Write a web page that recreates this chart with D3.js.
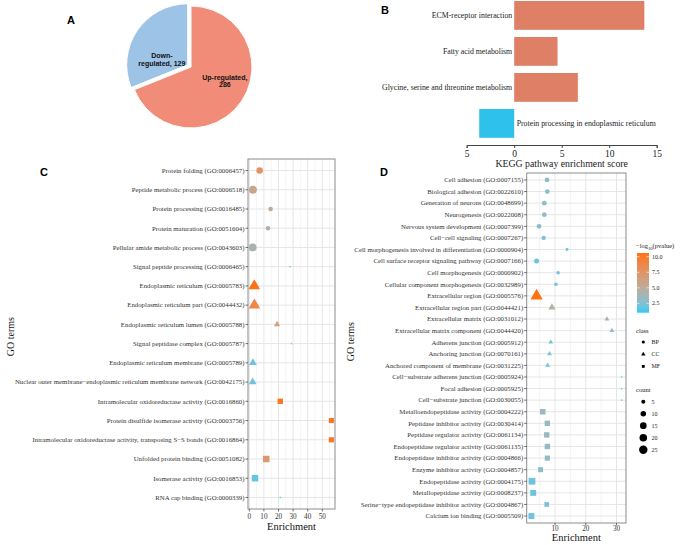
<!DOCTYPE html>
<html lang="en">
<head>
<meta charset="UTF-8">
<title>DEG enrichment overview</title>
<script src="https://d3js.org/d3.v7.min.js"></script>
<style>
  body { margin: 0; background: #fff; }
  svg { display: block; }
  text { font-family: 'Liberation Serif', 'Times New Roman', serif; fill: #222; }
  .tag { font-family: 'Liberation Sans', Arial, sans-serif; font-weight: bold; font-size: 11px; fill: #000; }
</style>
</head>
<body>
<svg width="685" height="545"></svg>
<script>
// ---- data ----
const pieLabels = ["Up-regulated", "Down-regulated"];
const pieValues = [286, 129];

const keggTerms = ["ECM-receptor interaction", "Fatty acid metabolism",
  "Glycine, serine and threonine metabolism", "Protein processing in endoplasmic reticulum"];
const keggScores = [13.7, 4.56, 6.7, -3.68];
const keggTicks = [-5, 0, 5, 10, 15];

const cTerms = [
  "Protein folding (GO:0006457)", "Peptide metabolic process (GO:0006518)",
  "Protein processing (GO:0016485)", "Protein maturation (GO:0051604)",
  "Pellular amide metabolic process (GO:0043603)", "Signal peptide processing (GO:0006465)",
  "Endoplasmic reticulum (GO:0005783)", "Endoplasmic reticulum part (GO:0044432)",
  "Endoplasmic reticulum lumen (GO:0005788)", "Signal peptidase complex (GO:0005787)",
  "Endoplasmic reticulum membrane (GO:0005789)",
  "Nuclear outer membrane−endoplasmic reticulum membrane network (GO:0042175)",
  "Intramolecular oxidoreductase activity (GO:0016860)",
  "Protein disulfide isomerase activity (GO:0003756)",
  "Intramolecular oxidoreductase activity, transposing S−S bonds (GO:0016864)",
  "Unfolded protein binding (GO:0051082)", "Isomerase activity (GO:0016853)",
  "RNA cap binding (GO:0000339)"];
const cEnrich = [7.1, 2.5, 14.6, 12.8, 2.3, 27.9, 3.4, 3.5, 19.0, 29.0, 2.5, 2.3, 21.2, 56.2, 56.2, 11.6, 3.9, 21.2];
const cLogP   = [7.6, 5.6, 5.0, 4.2, 4.1, 1.5, 10.6, 8.8, 6.3, 1.8, 2.0, 2.0, 10.2, 10.2, 10.2, 7.0, 1.8, 1.5];
const cCount  = [9, 14, 4, 4, 14, 1, 18, 18, 4, 1, 7, 7, 8, 7, 7, 12, 12, 1];
const cClass  = ["BP","BP","BP","BP","BP","BP","CC","CC","CC","CC","CC","CC","MF","MF","MF","MF","MF","MF"];
const cTicks  = [0, 10, 20, 30, 40, 50];

const dTerms = [
  "Cell adhesion (GO:0007155)", "Biological adhesion (GO:0022610)",
  "Generation of neurons (GO:0048699)", "Neurogenesis (GO:0022008)",
  "Nervous system development (GO:0007399)", "Cell−cell signaling (GO:0007267)",
  "Cell morphogenesis involved in differentiation (GO:0000904)",
  "Cell surface receptor signaling pathway (GO:0007166)",
  "Cell morphogenesis (GO:0000902)", "Cellular component morphogenesis (GO:0032989)",
  "Extracellular region (GO:0005576)", "Extracellular region part (GO:0044421)",
  "Extracellular matrix (GO:0031012)", "Extracellular matrix component (GO:0044420)",
  "Adherens junction (GO:0005912)", "Anchoring junction (GO:0070161)",
  "Anchored component of membrane (GO:0031225)", "Cell−substrate adherens junction (GO:0005924)",
  "Focal adhesion (GO:0005925)", "Cell−substrate junction (GO:0030055)",
  "Metalloendopeptidase activity (GO:0004222)", "Peptidase inhibitor activity (GO:0030414)",
  "Peptidase regulator activity (GO:0061134)", "Endopeptidase regulator activity (GO:0061135)",
  "Endopeptidase inhibitor activity (GO:0004866)", "Enzyme inhibitor activity (GO:0004857)",
  "Endopeptidase activity (GO:0004175)", "Metallopeptidase activity (GO:0008237)",
  "Serine−type endopeptidase inhibitor activity (GO:0004867)", "Calcium ion binding (GO:0005509)"];
const dEnrich = [7.4, 7.5, 6.5, 6.5, 4.8, 6.3, 13.9, 4.0, 11.0, 10.3, 4.0, 9.0, 26.9, 28.5, 8.6, 8.2, 7.6, 31.7, 31.7, 31.7,
                 6.0, 7.5, 7.3, 7.5, 7.5, 5.3, 2.5, 2.9, 7.3, 2.3];
const dLogP   = [3.1, 3.1, 3.0, 3.0, 2.8, 2.6, 1.8, 2.0, 2.0, 2.0, 10.6, 4.6, 3.8, 3.0, 2.0, 2.0, 2.0, 1.5, 1.5, 1.5,
                 3.5, 3.3, 3.3, 3.2, 3.2, 2.9, 2.0, 2.0, 2.4, 2.0];
const dCount  = [7, 7, 7, 7, 7, 6, 3, 8, 4, 4, 30, 9, 4, 4, 4, 4, 4, 2, 2, 2,
                 13, 12, 12, 12, 11, 10, 20, 15, 9, 15];
const dClass  = d3.range(30).map(i => i < 10 ? "BP" : i < 20 ? "CC" : "MF");
const dTicks  = [10, 20, 30];

const legendLogP = [10.0, 7.5, 5.0, 2.5];
const legendClasses = ["BP", "CC", "MF"];
const legendCounts = [5, 10, 15, 20, 25];

// ---- shared ----
const svg = d3.select("svg");
const color = d3.scaleLinear().domain([1.0, 10.6]).range(["#2ECBF6", "#FF7214"]).interpolate(d3.interpolateLab);
const shapes = {BP: d3.symbolCircle, CC: d3.symbolTriangle, MF: d3.symbolSquare};
// ggplot-ish area size scale
const radiusFn = domain => {
  const t = d3.scaleLinear().domain(domain).clamp(true);
  return c => 0.76 * (1 + 5 * Math.sqrt(t(c)));
};
const symbolPath = (cls, r) => d3.symbol().type(shapes[cls]).size(Math.PI * r * r)();

const tag = (label, x, y) => svg.append("text").attr("class", "tag").attr("x", x).attr("y", y).text(label);

// ---- A: pie ----
tag("A", 67, 24);
const pieG = svg.append("g").attr("transform", "translate(191,67)");
const arcs = d3.pie().sort(null)(pieValues);
const arc = d3.arc().innerRadius(0).outerRadius(61);
const pieColors = ["#F18C79", "#9DC3E6"];
const explode = [0, 4];
arcs.forEach((a, i) => {
  const mid = (a.startAngle + a.endAngle) / 2;
  const dx = Math.sin(mid) * explode[i], dy = -Math.cos(mid) * explode[i];
  const g = pieG.append("g").attr("transform", `translate(${dx},${dy})`);
  g.append("path").attr("d", arc(a)).attr("fill", pieColors[i]).attr("stroke", "#fff").attr("stroke-width", 1);
  const lblArc = d3.arc().innerRadius(36).outerRadius(36);
  let [lx, ly] = lblArc.centroid(a);
  // nudge labels like Excel's best fit
  if (i === 0) { lx += 4; ly -= 6; } else { lx += 4; ly += 15; }
  const lines = i === 0 ? [pieLabels[0] + ",", String(pieValues[0])]
                        : ["Down-", "regulated, " + pieValues[1]];
  lines.forEach((t, k) => {
    g.append("text").attr("x", lx).attr("y", ly + (k - 0.5) * 7.5 + 2.5)
      .attr("text-anchor", "middle")
      .style("font-family", "'Liberation Sans', Arial, sans-serif")
      .style("font-weight", "bold").style("font-size", "7px").style("fill", "#111")
      .text(t);
  });
});

// ---- B: KEGG bars ----
tag("B", 381, 14);
const bx = d3.scaleLinear().domain([-5, 15]).range([466.7, 656.7]);
const by = d3.scaleBand().domain(keggTerms).range([-2.6, 141.4]).paddingInner(0.2).paddingOuter(0.1);
keggTerms.forEach((t, i) => {
  const v = keggScores[i];
  svg.append("rect")
    .attr("x", bx(Math.min(0, v))).attr("width", Math.abs(bx(v) - bx(0)))
    .attr("y", by(t)).attr("height", by.bandwidth())
    .attr("fill", v >= 0 ? "#DE7F66" : "#2EC1E9");
  svg.append("text")
    .attr("x", v >= 0 ? bx(0) - 2 : bx(0) + 2.5)
    .attr("y", by(t) + by.bandwidth() / 2 + 2.6)
    .attr("text-anchor", v >= 0 ? "end" : "start")
    .style("font-size", "7.8px").text(t);
});
const bAxis = svg.append("g").attr("transform", "translate(0,145)")
  .call(d3.axisBottom(bx).tickValues(keggTicks).tickSize(3).tickPadding(2).tickFormat(d => Math.abs(d)));
bAxis.select(".domain").attr("stroke", "#444");
bAxis.selectAll(".tick line").attr("stroke", "#444");
bAxis.selectAll("text").style("font-family", "'Liberation Serif', serif").style("font-size", "9.5px").attr("fill", "#222");
svg.append("text").attr("x", 561.7).attr("y", 167).attr("text-anchor", "middle")
  .style("font-size", "9.8px").text("KEGG pathway enrichment score");

// ---- C / D: dot plots ----
function dotPanel(o) {
  const x = d3.scaleLinear().domain(o.xDomain).range([o.left, o.right]);
  const y = d3.scalePoint().domain(o.terms).range([o.top, o.bottom]).padding(0.6);
  const r = radiusFn(o.countDomain);
  const g = svg.append("g");
  // grid
  const minor = d3.range(o.minorStart, o.xDomain[1], o.minorStep);
  g.selectAll(null).data(minor).join("line")
    .attr("x1", d => x(d)).attr("x2", d => x(d)).attr("y1", o.top).attr("y2", o.bottom)
    .attr("stroke", "#ececec").attr("stroke-width", 0.6);
  g.selectAll(null).data(o.ticks).join("line")
    .attr("x1", d => x(d)).attr("x2", d => x(d)).attr("y1", o.top).attr("y2", o.bottom)
    .attr("stroke", "#e6e6e6").attr("stroke-width", 1);
  g.selectAll(null).data(o.terms).join("line")
    .attr("x1", o.left).attr("x2", o.right).attr("y1", d => y(d)).attr("y2", d => y(d))
    .attr("stroke", "#e6e6e6").attr("stroke-width", 1);
  // points
  o.terms.forEach((t, i) => {
    g.append("path")
      .attr("transform", `translate(${x(o.enrich[i])},${y(t)})`)
      .attr("d", symbolPath(o.classes[i], r(o.counts[i])))
      .attr("fill", color(o.logp[i]));
  });
  // border
  g.append("rect").attr("x", o.left).attr("y", o.top)
    .attr("width", o.right - o.left).attr("height", o.bottom - o.top)
    .attr("fill", "none").attr("stroke", "#8c8c8c").attr("stroke-width", 1);
  // y axis
  o.terms.forEach(t => {
    g.append("line").attr("x1", o.left - 2.5).attr("x2", o.left).attr("y1", y(t)).attr("y2", y(t))
      .attr("stroke", "#333").attr("stroke-width", 0.7);
    g.append("text").attr("x", o.left - 3.5).attr("y", y(t) + 2.3)
      .attr("text-anchor", "end").style("font-size", "6.8px").style("fill", "#333").text(t);
  });
  // x axis
  o.ticks.forEach(d => {
    g.append("line").attr("x1", x(d)).attr("x2", x(d)).attr("y1", o.bottom).attr("y2", o.bottom + 2.5)
      .attr("stroke", "#333").attr("stroke-width", 0.7);
    g.append("text").attr("x", x(d)).attr("y", o.tickY)
      .attr("text-anchor", "middle").style("font-size", "7.2px").style("fill", "#333").text(d);
  });
  g.append("text").attr("x", (o.left + o.right) / 2).attr("y", o.titleY)
    .attr("text-anchor", "middle").style("font-size", "10.5px").style("fill", "#111").text("Enrichment");
  g.append("text").attr("transform", `translate(${o.goX},${o.goY}) rotate(-90)`)
    .attr("text-anchor", "middle").style("font-size", "10px").style("fill", "#111").text("GO terms");
  return r;
}

tag("C", 40, 175.5);
dotPanel({terms: cTerms, enrich: cEnrich, logp: cLogP, counts: cCount, classes: cClass,
  xDomain: [-0.9, 58.7], left: 248, right: 335, top: 159, bottom: 509,
  ticks: cTicks, minorStart: 5, minorStep: 10, countDomain: [1, 20],
  tickY: 519.3, titleY: 530, goX: 13.5, goY: 336.7});

tag("D", 380, 175.5);
const rD = dotPanel({terms: dTerms, enrich: dEnrich, logp: dLogP, counts: dCount, classes: dClass,
  xDomain: [0.78, 33.1], left: 526.7, right: 626, top: 173, bottom: 523,
  ticks: dTicks, minorStart: 5, minorStep: 10, countDomain: [2, 30],
  tickY: 531, titleY: 541, goX: 353.5, goY: 341.7});

// ---- legends ----
const lg = svg.append("g");
const ct = lg.append("text").attr("x", 636).attr("y", 248).style("font-size", "6.5px");
ct.append("tspan").text("−log");
ct.append("tspan").attr("dy", 1.5).style("font-size", "4.6px").text("10");
ct.append("tspan").attr("dy", -1.5).text("(pvalue)");

const cbY = d3.scaleLinear().domain([1.0, 10.6]).range([312.7, 253]);
const grad = svg.append("defs").append("linearGradient").attr("id", "cbar")
  .attr("x1", 0).attr("x2", 0).attr("y1", 1).attr("y2", 0);
d3.range(0, 1.0001, 0.1).forEach(f => {
  grad.append("stop").attr("offset", f).attr("stop-color", color(1.0 + f * 9.6));
});
lg.append("rect").attr("x", 637).attr("y", 253).attr("width", 12).attr("height", 59.7).attr("fill", "url(#cbar)");
legendLogP.forEach(v => {
  lg.append("line").attr("x1", 637).attr("x2", 639.5).attr("y1", cbY(v)).attr("y2", cbY(v)).attr("stroke", "#fff").attr("stroke-width", 0.6);
  lg.append("line").attr("x1", 646.5).attr("x2", 649).attr("y1", cbY(v)).attr("y2", cbY(v)).attr("stroke", "#fff").attr("stroke-width", 0.6);
  lg.append("text").attr("x", 652).attr("y", cbY(v) + 2).style("font-size", "6px").text(v.toFixed(1));
});

lg.append("text").attr("x", 636).attr("y", 333).style("font-size", "6.5px").text("class");
legendClasses.forEach((c, i) => {
  const yy = 342 + i * 12.2;
  lg.append("path").attr("transform", `translate(643.3,${yy})`).attr("d", symbolPath(c, 1.6)).attr("fill", "#000");
  lg.append("text").attr("x", 651.5).attr("y", yy + 2).style("font-size", "6px").text(c);
});

lg.append("text").attr("x", 636).attr("y", 391.5).style("font-size", "6.5px").text("count");
legendCounts.forEach((c, i) => {
  const yy = 401.7 + i * 12;
  lg.append("circle").attr("cx", 643.3).attr("cy", yy).attr("r", rD(c)).attr("fill", "#000");
  lg.append("text").attr("x", 651.5).attr("y", yy + 2).style("font-size", "6px").text(c);
});
</script>
</body>
</html>
